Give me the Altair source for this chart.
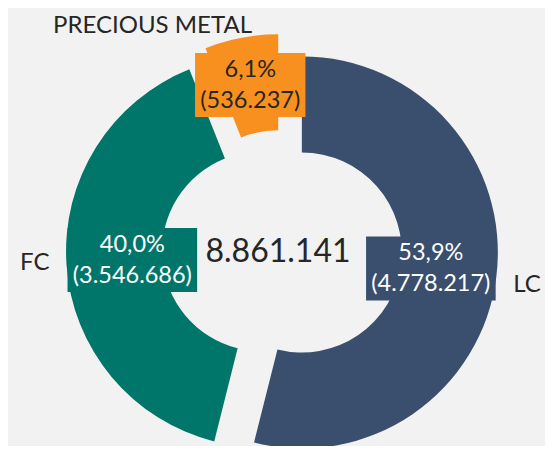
import altair as alt
import pandas as pd

# ---- data ----
categories = ["LC", "FC", "PRECIOUS METAL"]
values = [4778217, 3546686, 536237]
total_label = 8861141

# ---- styling ----
colors = ["#3a4e6e", "#00766b", "#f7901e"]
W, H = 537, 438
CX, CY = 274, 242
R_OUT, R_IN = 196, 100
EXPLODE = 20
LABEL_R = 150
OUTER_R = 233
FONT = "Lato"
DARK = "#262626"
LINE_H = 31

df = pd.DataFrame({"category": categories, "value": values,
                   "idx": list(range(len(categories)))})

base = (
    alt.Chart(df)
    .transform_joinaggregate(total="sum(value)")
    .transform_window(cum="sum(value)", sort=[alt.SortField("idx")], frame=[None, 0])
    .transform_calculate(start="(datum.cum - datum.value) / datum.total * 2 * PI")
    .transform_calculate(end="datum.cum / datum.total * 2 * PI")
    .transform_calculate(mid="(datum.start + datum.end) / 2")
    .transform_calculate(ax=f"{CX} + {EXPLODE} * sin(datum.mid)")
    .transform_calculate(ay=f"{CY} - {EXPLODE} * cos(datum.mid)")
    .transform_calculate(lr=f"datum.category == 'PRECIOUS METAL' ? {LABEL_R + 18} : {LABEL_R}")
    .transform_calculate(lx=f"{CX} + datum.lr * sin(datum.mid)")
    .transform_calculate(ly=f"{CY} - datum.lr * cos(datum.mid)")
    .transform_calculate(pct="replace(format(datum.value / datum.total, '.1%'), '.', ',')")
    .transform_calculate(num="'(' + replace(format(datum.value, ','), regexp(',', 'g'), '.') + ')'")
    .transform_calculate(label="[datum.pct, datum.num]")
    .transform_calculate(bw="length(datum.num) * 9.6 + 24")
    .transform_calculate(bx1="datum.lx - datum.bw / 2")
    .transform_calculate(bx2="datum.lx + datum.bw / 2")
    .transform_calculate(by1="datum.ly - 32")
    .transform_calculate(by2="datum.ly + 32")
    .transform_calculate(nx="datum.category == 'PRECIOUS METAL' ? 14 : 0")
    .transform_calculate(ny="datum.category == 'PRECIOUS METAL' ? 5 : (datum.category == 'LC' ? 6 : -3)")
    .transform_calculate(ox=f"{CX} + {OUTER_R} * sin(datum.mid) + datum.nx")
    .transform_calculate(oy=f"{CY} - {OUTER_R} * cos(datum.mid) + datum.ny")
    .transform_calculate(side="sin(datum.mid) > 0 ? 'right' : 'left'")
)

color = alt.Color("category:N", scale=alt.Scale(domain=categories, range=colors), legend=None)

arcs = base.mark_arc(outerRadius=R_OUT, innerRadius=R_IN).encode(
    theta=alt.Theta("start:Q", scale=None),
    theta2="end:Q",
    x=alt.X("ax:Q", scale=None, axis=None),
    y=alt.Y("ay:Q", scale=None, axis=None),
    color=color,
)

boxes = base.mark_rect().encode(
    x=alt.X("bx1:Q", scale=None, axis=None),
    x2="bx2:Q",
    y=alt.Y("by1:Q", scale=None, axis=None),
    y2="by2:Q",
    color=color,
)

labels = base.mark_text(font=FONT, fontSize=23.5, lineHeight=LINE_H, align="center",
                        baseline="middle", dy=-LINE_H / 2).encode(
    x=alt.X("lx:Q", scale=None, axis=None),
    y=alt.Y("ly:Q", scale=None, axis=None),
    text=alt.Text("label:N"),
    color=alt.condition(alt.datum.category == "PRECIOUS METAL",
                        alt.value(DARK), alt.value("white")),
)

outer_left = base.transform_filter("datum.side == 'right'").mark_text(
    font=FONT, fontSize=24, align="left", baseline="middle", color=DARK
).encode(
    x=alt.X("ox:Q", scale=None, axis=None),
    y=alt.Y("oy:Q", scale=None, axis=None),
    text="category:N",
)

outer_right = base.transform_filter("datum.side == 'left'").mark_text(
    font=FONT, fontSize=24, align="right", baseline="middle", color=DARK
).encode(
    x=alt.X("ox:Q", scale=None, axis=None),
    y=alt.Y("oy:Q", scale=None, axis=None),
    text="category:N",
)

center = alt.Chart(pd.DataFrame({"total": [total_label]})).transform_calculate(
    t="replace(format(datum.total, ','), regexp(',', 'g'), '.')"
).mark_text(font=FONT, fontSize=32, align="center", baseline="middle", color=DARK).encode(
    x=alt.value(CX - 4),
    y=alt.value(CY + 2),
    text="t:N",
)

chart = (
    alt.layer(arcs, boxes, labels, outer_left, outer_right, center)
    .properties(width=W, height=H, autosize=alt.AutoSizeParams(type="none"), padding=0,
                background="#f2f2f2")
    .configure_view(stroke=None)
)

chart.save("out.html", embed_options={"renderer": "svg", "actions": False})
